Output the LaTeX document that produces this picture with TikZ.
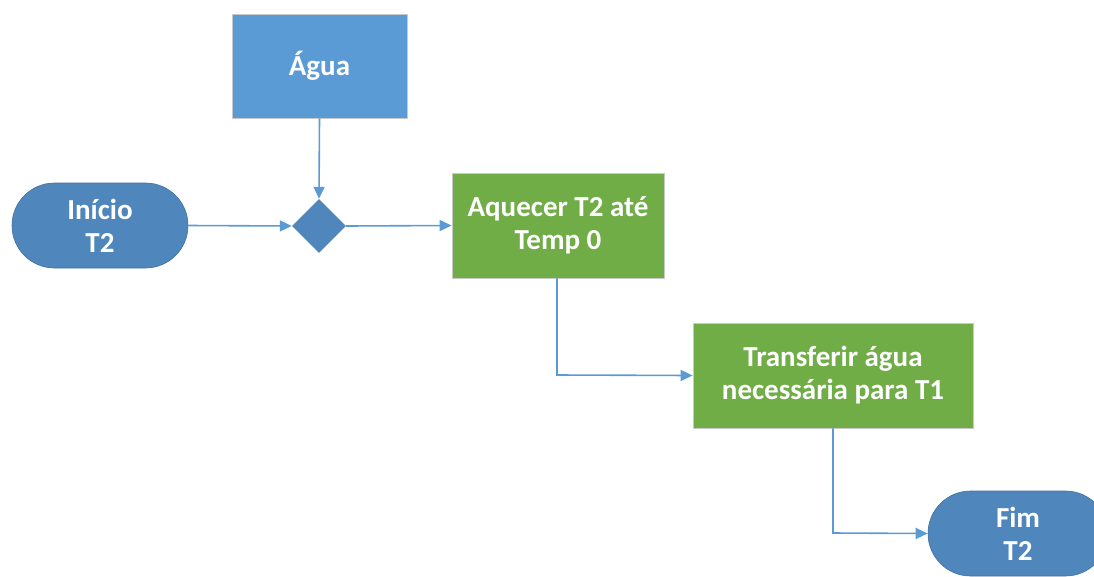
\documentclass[tikz,border=0pt]{standalone}
\usepackage{fontspec}
\setmainfont{Carlito}
\usetikzlibrary{arrows.meta,shapes.geometric,shapes.misc}
\definecolor{boxblue}{HTML}{5B9BD5}
\definecolor{termblue}{HTML}{4F86BC}
\definecolor{boxgreen}{HTML}{70AD47}
\definecolor{edgegray}{HTML}{C9C9C9}
\definecolor{linkblue}{HTML}{5B9BD5}
\begin{document}
\begin{tikzpicture}[x=1pt,y=-1pt,
  lbl/.style={text=white,font=\fontsize{29}{33}\selectfont\bfseries,align=center},
  bluebox/.style={lbl,rectangle,fill=boxblue,draw=edgegray,line width=0.8pt,minimum width=175pt,minimum height=104pt,inner sep=0pt},
  greenbox/.style={lbl,rectangle,fill=boxgreen,draw=edgegray,line width=0.8pt,inner sep=0pt},
  term/.style={lbl,rounded rectangle,fill=termblue,draw=termblue!85!black,line width=0.6pt,minimum width=176pt,minimum height=85pt,inner sep=0pt},
  dec/.style={diamond,fill=termblue,minimum width=54pt,minimum height=54pt,inner sep=0pt},
  link/.style={draw=linkblue,line width=1.6pt,-{Triangle[length=12pt,width=11pt]}}
]
\useasboundingbox (0,0) rectangle (1094,576);
\begin{scope}
\clip (0,0) rectangle (1094,576);
\node[bluebox] (agua) at (319.5,66) {Água};
\node[term] (inicio) at (100,225.5) {Início\\T2};
\node[dec] (dec) at (319,226) {};
\node[greenbox,minimum width=212pt,minimum height=105pt] (aquecer) at (558,225.5) {Aquecer T2 até\\Temp 0};
\node[greenbox,minimum width=280pt,minimum height=105pt] (transf) at (833,375.5) {Transferir água\\necessária para T1};
\node[term,minimum width=180pt] (fim) at (1018,533.5) {Fim\\T2};
\coordinate (c1) at (557,375);
\coordinate (c2) at (833,533);
\draw[link] (agua.south) -- (dec.north);
\draw[link] (inicio.east) -- (dec.west);
\draw[link] (dec.east) -- (aquecer.west);
\draw[link] (aquecer.south -| c1) -- (c1) -- (transf.west);
\draw[link] (transf.south -| c2) -- (c2) -- (fim.west);
\end{scope}
\end{tikzpicture}
\end{document}
